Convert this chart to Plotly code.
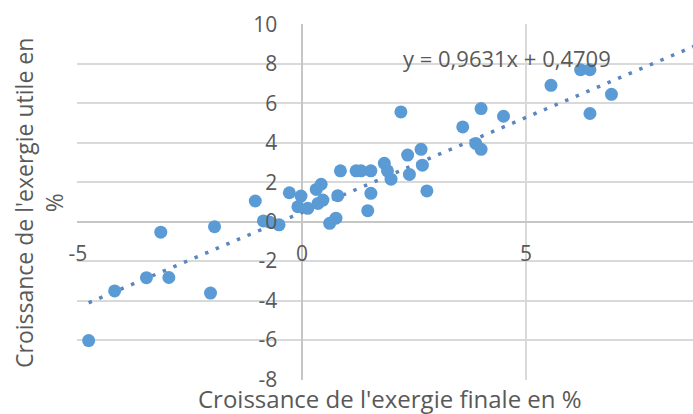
import numpy as np
import plotly.graph_objects as go

# Data (growth of final exergy vs growth of useful exergy, %)
finale = [-4.76, -4.18, -3.47, -3.15, -2.97, -2.04, -1.95, -1.04, -0.86, -0.73,
          -0.51, -0.28, -0.02, 0.43, 0.32, -0.09, 0.13, 0.36, 0.47, 0.80,
          0.62, 0.76, 0.86, 1.21, 1.32, 1.54, 1.84, 1.91, 1.99, 2.36,
          2.66, 2.69, 2.40, 1.54, 1.47, 2.79, 2.21, 4.00, 3.59, 4.50,
          3.88, 4.00, 5.56, 6.22, 6.43, 6.91, 6.43]
utile = [-6.03, -3.51, -2.84, -0.53, -2.83, -3.62, -0.25, 1.05, 0.04, -0.01,
         -0.16, 1.47, 1.30, 1.90, 1.64, 0.76, 0.68, 0.93, 1.10, 1.32,
         -0.08, 0.18, 2.58, 2.58, 2.58, 2.58, 2.96, 2.58, 2.16, 3.38,
         3.67, 2.87, 2.40, 1.44, 0.56, 1.56, 5.57, 5.74, 4.81, 5.35,
         3.97, 3.67, 6.92, 7.71, 7.71, 6.46, 5.49]

slope = 0.9631
intercept = 0.4709
equation_label = "y = 0,9631x + 0,4709"
x_title = "Croissance de l'exergie finale en %"
y_title = "Croissance de l'exergie utile en<br>%"
x_ticks = [-5, 0, 5]
y_ticks = [-8, -6, -4, -2, 0, 2, 4, 6, 8, 10]

FONT = "Open Sans"
TXT = "#595959"
GRID = "#D9D9D9"

x_min, x_max = -5.0, 8.73
y_min, y_max = -8.0, 10.0

trend_x = np.array([min(finale), 10.0])
trend_y = slope * trend_x + intercept

fig = go.Figure()
fig.add_trace(go.Scatter(
    x=trend_x, y=trend_y, mode="lines",
    line=dict(color="#5B86C0", width=3.5, dash="3.5px,8px"),
    hoverinfo="skip", showlegend=False, cliponaxis=True))
fig.add_trace(go.Scatter(
    x=finale, y=utile, mode="markers",
    marker=dict(color="#5B9BD5", size=13, line=dict(width=0)),
    showlegend=False))

L, T, B = 77, 24, 34
W, H = 693, 414
plot_w = W - L
plot_h = H - T - B

fig.update_layout(
    width=W, height=H,
    margin=dict(l=L, r=0, t=T, b=B, autoexpand=False),
    paper_bgcolor="white", plot_bgcolor="white",
    font=dict(family=FONT, color=TXT, size=21),
    xaxis=dict(
        range=[x_min - 0.02, x_max], tickvals=x_ticks, ticktext=[str(v) for v in x_ticks],
        showgrid=True, gridcolor=GRID, gridwidth=1.5,
        zeroline=True, zerolinecolor="#C6C6C6", zerolinewidth=1.5,
        showline=False, ticks="", anchor="free", position=0.396, automargin=False,
        tickfont=dict(size=21, family=FONT, color=TXT)),
    yaxis=dict(
        range=[y_min - 0.03, y_max + 0.03], tickvals=y_ticks, ticktext=[str(v) for v in y_ticks],
        showgrid=True, gridcolor=GRID, gridwidth=1.5,
        zeroline=True, zerolinecolor="#C6C6C6", zerolinewidth=1.5,
        showline=False, ticks="", anchor="free", position=0.325, automargin=False,
        tickfont=dict(size=21, family=FONT, color=TXT)),
    annotations=[
        dict(text=equation_label, x=4.58, y=8.33, xref="x", yref="y",
             xanchor="center", yanchor="middle",
             showarrow=False, font=dict(size=22, family=FONT, color=TXT)),
        dict(text=x_title, x=(390 - L) / plot_w, y=(H - B - 398) / plot_h,
             xref="paper", yref="paper", xanchor="center", yanchor="middle",
             showarrow=False, font=dict(size=24, family=FONT, color=TXT)),
        dict(text=y_title, x=(39 - L) / plot_w, y=(H - B - 203) / plot_h,
             xref="paper", yref="paper", xanchor="center", yanchor="middle",
             textangle=-90, showarrow=False, font=dict(size=23, family=FONT, color=TXT)),
    ],
)

fig.write_html("out.html", config={"displayModeBar": False},
               post_script="document.body.style.margin='0';document.body.style.overflow='hidden';")
